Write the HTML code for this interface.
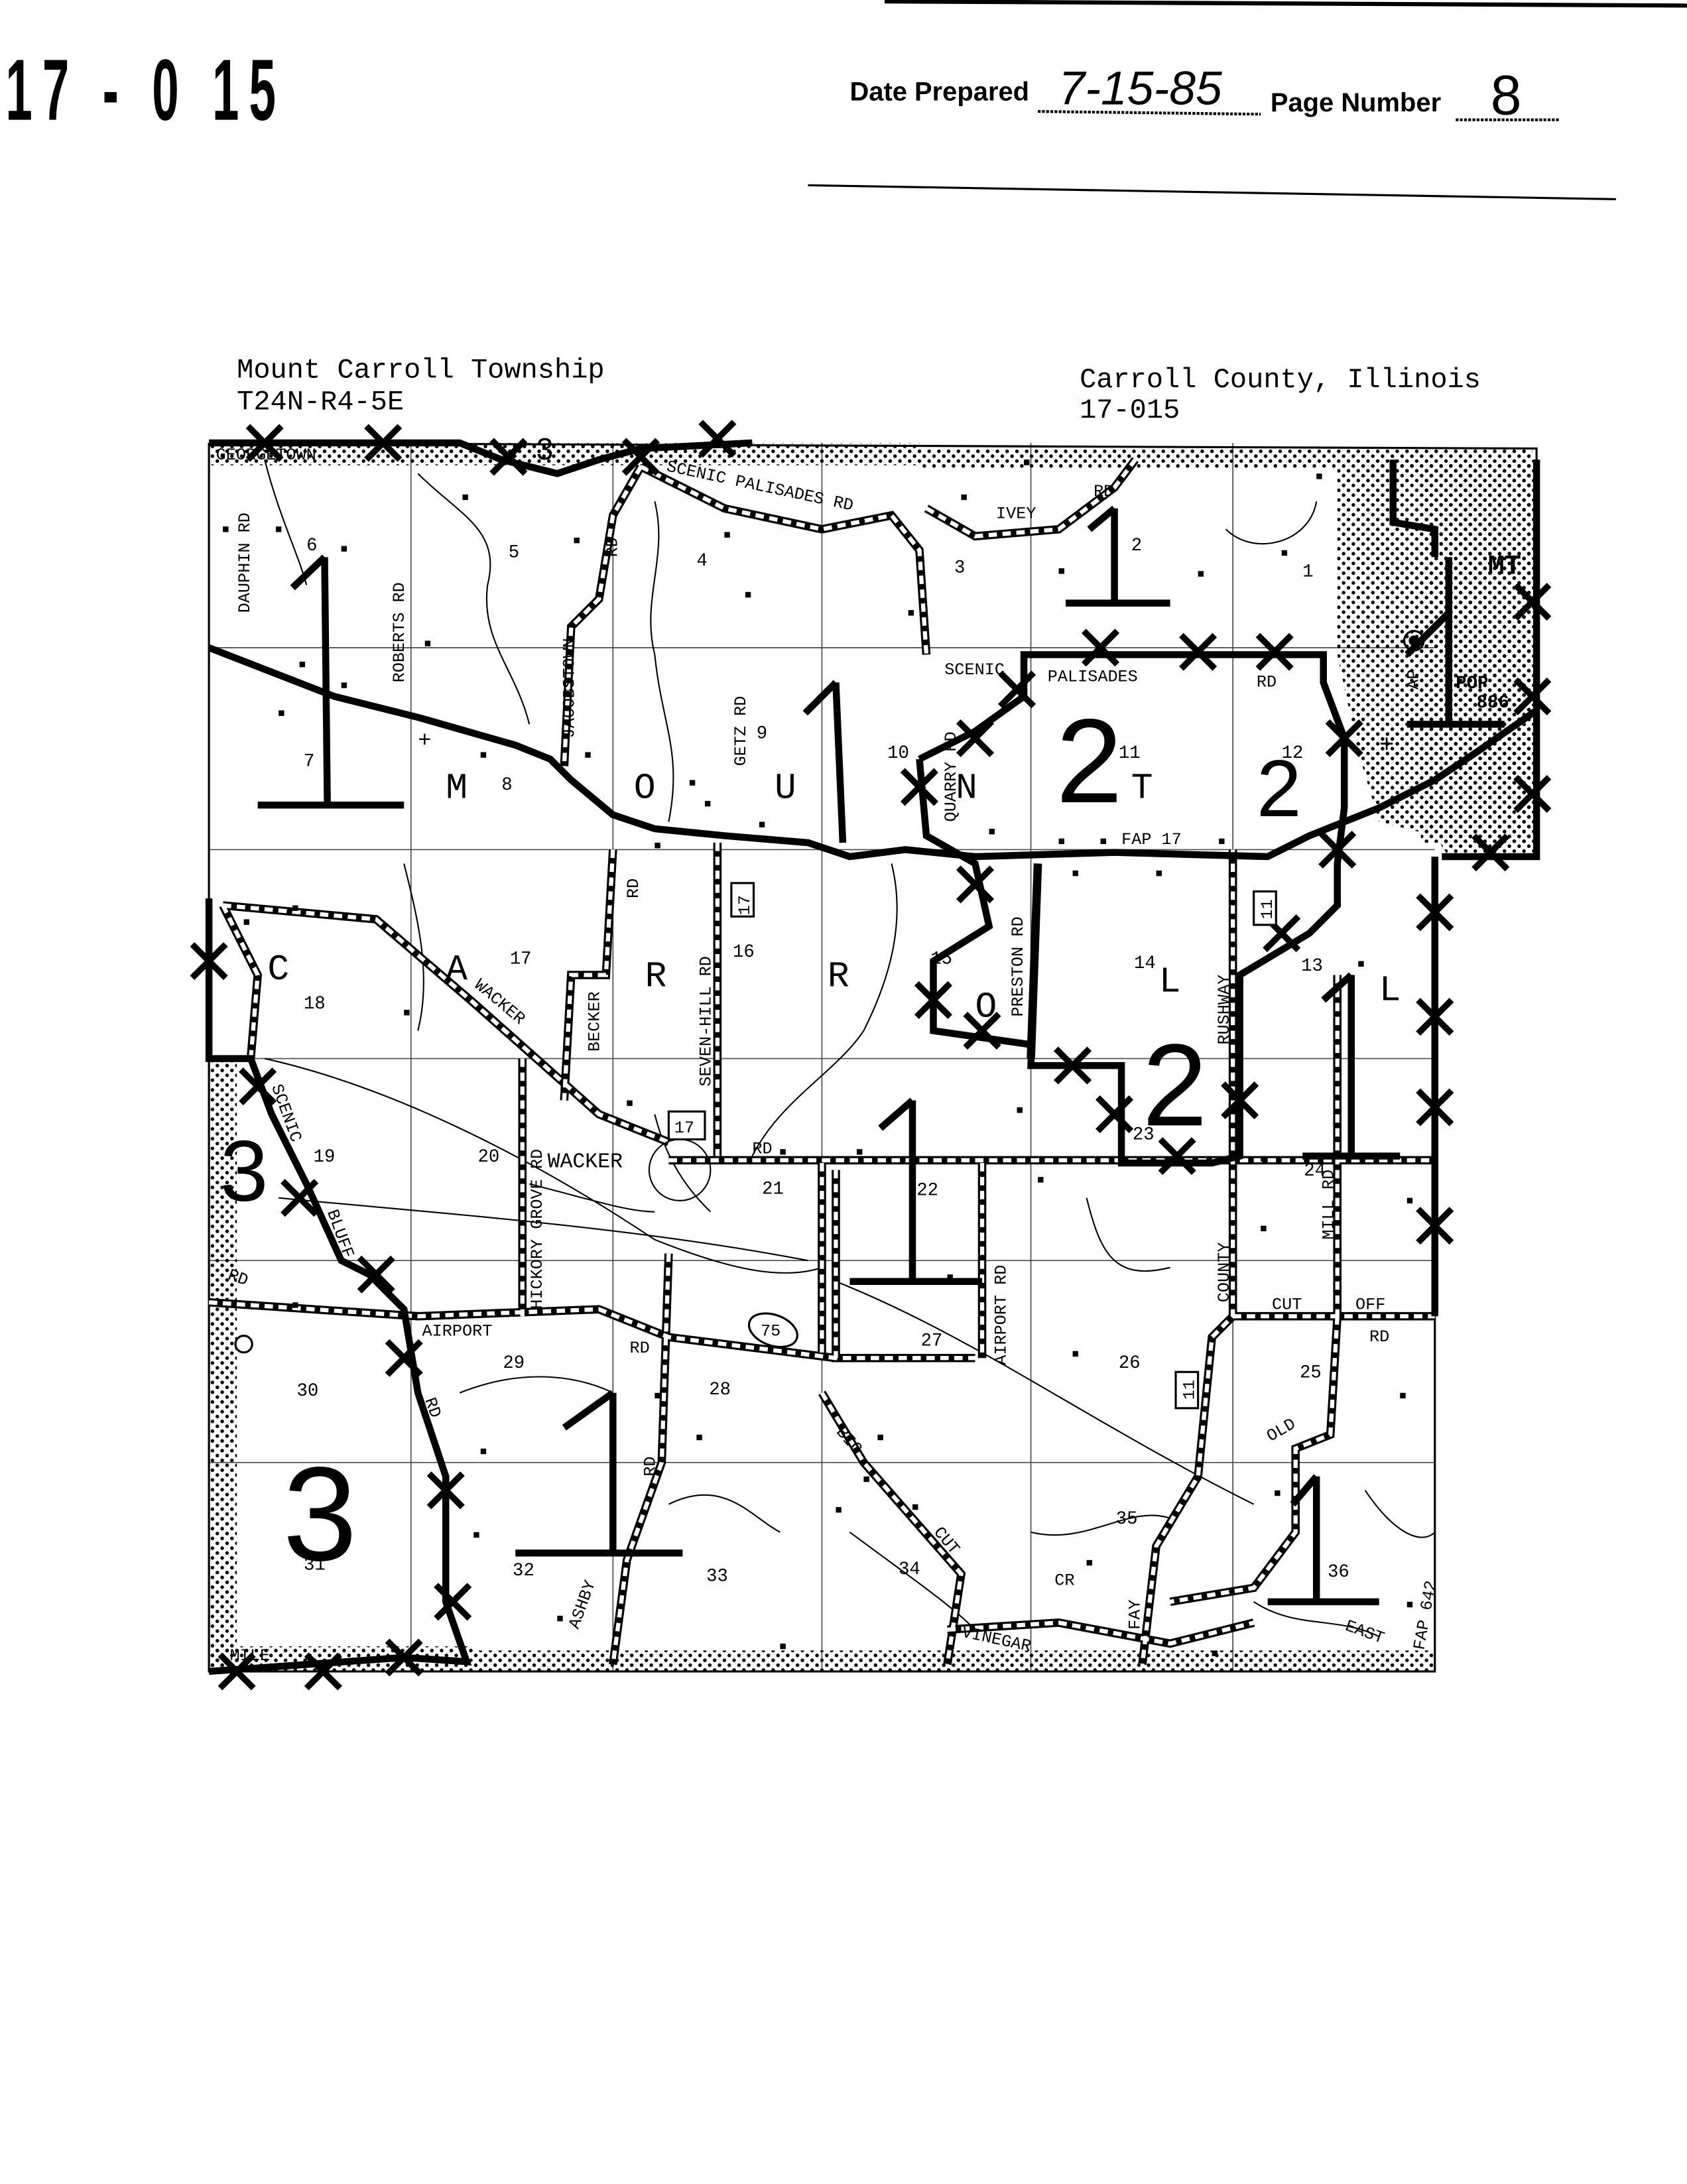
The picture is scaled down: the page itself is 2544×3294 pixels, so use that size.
<!DOCTYPE html>
<html><head><meta charset="utf-8"><style>
html,body{margin:0;padding:0;background:#fff;}
svg{display:block;}
</style></head><body>
<svg width="2544" height="3294" viewBox="0 0 1211 1568" preserveAspectRatio="none" xmlns="http://www.w3.org/2000/svg">
<defs>
<pattern id="st" width="7" height="7" patternUnits="userSpaceOnUse"><circle cx="2" cy="2" r="1.3" fill="#000"/><circle cx="5.5" cy="5.5" r="1.3" fill="#000"/></pattern>
</defs>
<rect width="1211" height="1568" fill="#fff"/>
<!-- header -->
<line x1="635" y1="1" x2="1211" y2="4" stroke="#000" stroke-width="3"/>
<text x="0" y="0" transform="translate(4,86) scale(0.72,1.3)" font-family="Liberation Sans, sans-serif" font-weight="bold" font-size="48" letter-spacing="10">17 - 0 15</text>
<text x="610" y="72" font-family="Liberation Sans, sans-serif" font-weight="bold" font-size="19">Date Prepared</text>
<text x="760" y="75" font-family="Liberation Sans, sans-serif" font-size="34" font-style="italic">7-15-85</text>
<line x1="745" y1="80" x2="905" y2="82" stroke="#000" stroke-width="2" stroke-dasharray="2 1"/>
<text x="912" y="80" font-family="Liberation Sans, sans-serif" font-weight="bold" font-size="19">Page Number</text>
<text x="1070" y="82" font-family="Liberation Sans, sans-serif" font-size="40">8</text>
<line x1="1045" y1="86" x2="1120" y2="86" stroke="#000" stroke-width="2" stroke-dasharray="2 1"/>
<line x1="580" y1="133" x2="1160" y2="143" stroke="#000" stroke-width="1.5"/>
<text x="170" y="271" font-family="Liberation Mono, monospace" font-size="20">Mount Carroll Township</text>
<text x="170" y="294" font-family="Liberation Mono, monospace" font-size="20">T24N-R4-5E</text>
<text x="775" y="278" font-family="Liberation Mono, monospace" font-size="20">Carroll County, Illinois</text>
<text x="775" y="300" font-family="Liberation Mono, monospace" font-size="20">17-015</text>

<!-- stippled areas -->
<g fill="url(#st)">
<rect x="150" y="318" width="510" height="16"/>
<rect x="660" y="322" width="440" height="14"/>
<rect x="150" y="760" width="20" height="440"/>
<rect x="150" y="1182" width="190" height="18"/>
<rect x="340" y="1185" width="690" height="15"/>
<path d="M960 335 L1103 330 L1103 615 L1040 615 L1030 600 L990 590 L975 540 L960 470 Z"/>
<rect x="1020" y="335" width="83" height="270"/>
</g>
<!-- frame -->
<g fill="none" stroke="#000" stroke-width="1.5">
<path d="M150 318 L1103 322 L1103 615 M1030 615 L1030 1200 L150 1200 L150 318"/>
</g>
<!-- grid -->
<g stroke="#000" stroke-width="0.8" opacity="0.7">
<line x1="295" y1="318" x2="295" y2="1200"/><line x1="440" y1="318" x2="440" y2="1200"/>
<line x1="590" y1="318" x2="590" y2="1200"/><line x1="740" y1="318" x2="740" y2="1200"/>
<line x1="885" y1="318" x2="885" y2="1200"/>
<line x1="150" y1="465" x2="1030" y2="465"/><line x1="150" y1="610" x2="1030" y2="610"/>
<line x1="150" y1="760" x2="1030" y2="760"/><line x1="150" y1="905" x2="1030" y2="905"/>
<line x1="150" y1="1050" x2="1030" y2="1050"/>
</g>
<!-- streams -->
<g fill="none" stroke="#000" stroke-width="1">
<path d="M300 340 C330 370 360 380 350 420 C345 460 370 480 380 520"/>
<path d="M190 330 C200 370 215 400 220 420"/>
<path d="M470 360 C480 400 460 430 470 470 C475 520 490 540 480 590"/>
<path d="M880 380 C900 400 940 390 945 360"/>
<path d="M640 620 C650 660 640 700 620 740 C600 770 560 790 540 830"/>
<path d="M290 620 C300 660 310 700 300 740"/>
<path d="M190 760 C280 780 380 830 470 890 C520 910 560 920 590 910"/>
<path d="M200 860 C300 870 450 880 580 905"/>
<path d="M600 920 C700 960 780 1020 900 1080"/>
<path d="M330 1000 C380 980 420 990 440 1000"/>
<path d="M480 1080 C520 1060 540 1090 560 1100"/>
<path d="M610 1100 C650 1130 680 1150 700 1170"/>
<path d="M740 1100 C780 1110 810 1080 840 1090"/>
<path d="M780 860 C790 900 800 920 840 910"/>
<path d="M980 1070 C1000 1100 1020 1110 1030 1100"/>
<path d="M900 1150 C930 1170 960 1160 990 1175"/>
<path d="M470 800 C480 840 500 860 510 870"/>
<path d="M380 850 C420 860 450 870 470 870"/>
</g>
<!-- roads (dashed) -->
<g fill="none" stroke="#000" stroke-width="6">
<path id="r" d="M460 335 L440 370 L430 430 L410 450 L405 550 M460 335 L520 365 L590 380 L640 370 L660 395 L665 470 M440 610 L435 700 L410 700 L405 790 M160 650 L270 660 L340 720 L430 800 L480 820 M515 605 L515 830 M480 833 L1030 833 M375 760 L375 945 M150 935 L300 945 L430 940 L480 960 L600 975 M590 835 L590 975 M705 835 L705 975 M885 610 L885 945 L870 960 L860 1060 L830 1110 L820 1195 M680 1170 L760 1165 L840 1180 L900 1165 M590 1000 L620 1050 L690 1130 L680 1195 M960 700 L960 945 M885 945 L1030 945 M960 945 L955 1030 L930 1040 L930 1100 L900 1140 L840 1150 M480 900 L475 1050 L450 1120 L440 1195 M745 620 L740 760 M160 650 L185 700 L180 760 M665 365 L700 385 L760 380 L800 350 L815 330 M600 840 L600 975 L700 975"/>
</g>
<g fill="none" stroke="#fff" stroke-width="3" stroke-dasharray="6 4">
<use href="#r"/>
</g>
<!-- main highway FAP 17 -->
<path d="M150 465 L240 500 L300 515 L370 535 L395 545 L410 560 L440 585 L470 595 L520 600 L580 605 L610 615 L650 610 L700 615 L800 612 L910 615 L940 600 L990 580 L1030 560 L1060 540 L1103 510" fill="none" stroke="#000" stroke-width="5"/>
<!-- thick boundaries -->
<g fill="none" stroke="#000" stroke-width="5">
<path d="M150 318 L330 318 L360 330 L400 340 L430 330 L460 322 L540 318"/>
<path d="M660 545 L700 525 L735 500 L735 470 L950 470 L950 490 L965 530 L965 580 L960 620 L960 650 L940 670 L890 700 L890 830 L870 835 L805 835 L805 765 L740 765 L745 620"/>
<path d="M660 545 L665 600 L700 620 L710 665 L670 690 L670 740 L740 750"/>
<path d="M150 645 L150 760 L180 760 L195 800 L220 850 L245 905 L265 915 L290 940 L300 1000 L320 1060 L320 1150 L335 1193 L290 1190 L150 1200"/>
<path d="M1030 615 L1030 945"/>
<path d="M1000 330 L1000 375 L1030 380 L1030 400"/>
<path d="M1103 330 L1103 615 L1035 615"/>
<path d="M970 700 L970 830 M935 830 L1005 830 M950 718 L970 700"/>
<path d="M655 790 L655 920 M610 920 L705 920 M632 810 L655 790"/>
<path d="M440 1000 L440 1115 M370 1115 L490 1115 M405 1025 L440 1000"/>
<path d="M233 400 L235 578 M185 578 L290 578 M210 422 L233 400"/>
<path d="M600 490 L605 605 M578 512 L600 490"/>
<path d="M800 365 L800 433 M765 433 L840 433 M782 380 L800 365"/>
<path d="M945 1060 L945 1150 M910 1150 L990 1150 M928 1080 L945 1060"/>
<path d="M1040 400 L1040 520 M1010 520 L1080 520"/>
<path d="M1010 470 L1040 440"/>
</g>
<!-- X marks -->
<g stroke="#000" stroke-width="4.5">
<path d="M178 306l24 24M202 306l-24 24 M263 306l24 24M287 306l-24 24 M353 316l24 24M377 316l-24 24 M448 316l24 24M472 316l-24 24 M503 303l24 24M527 303l-24 24 M778 453l24 24M802 453l-24 24 M848 456l24 24M872 456l-24 24 M903 456l24 24M927 456l-24 24 M718 483l24 24M742 483l-24 24 M688 518l24 24M712 518l-24 24 M648 553l24 24M672 553l-24 24 M953 518l24 24M977 518l-24 24 M948 598l24 24M972 598l-24 24 M1088 420l24 24M1112 420l-24 24 M1088 488l24 24M1112 488l-24 24 M1088 558l24 24M1112 558l-24 24 M1058 600l24 24M1082 600l-24 24 M1018 643l24 24M1042 643l-24 24 M688 623l24 24M712 623l-24 24 M658 706l24 24M682 706l-24 24 M693 728l24 24M717 728l-24 24 M908 658l24 24M932 658l-24 24 M758 753l24 24M782 753l-24 24 M788 788l24 24M812 788l-24 24 M833 818l24 24M857 818l-24 24 M878 778l24 24M902 778l-24 24 M1018 718l24 24M1042 718l-24 24 M1018 783l24 24M1042 783l-24 24 M1018 868l24 24M1042 868l-24 24 M138 678l24 24M162 678l-24 24 M173 768l24 24M197 768l-24 24 M203 848l24 24M227 848l-24 24 M258 903l24 24M282 903l-24 24 M278 963l24 24M302 963l-24 24 M308 1058l24 24M332 1058l-24 24 M313 1138l24 24M337 1138l-24 24 M278 1178l24 24M302 1178l-24 24 M220 1188l24 24M244 1188l-24 24 M158 1188l24 24M182 1188l-24 24"/>
</g>
<!-- big handwritten -->
<g font-family="Liberation Sans, sans-serif" fill="#000">
<text x="758" y="576" font-size="86">2</text>
<text x="902" y="586" font-size="58">2</text>
<text x="820" y="808" font-size="84">2</text>
<text x="158" y="862" font-size="62">3</text>
<text x="203" y="1120" font-size="96">3</text>
<text x="385" y="330" font-size="22">3</text>
</g>
<!-- letters -->
<g font-family="Liberation Mono, monospace" font-size="26" fill="#000">
<text x="320" y="573">M</text><text x="455" y="573">O</text><text x="556" y="573">U</text><text x="686" y="573">N</text><text x="812" y="573">T</text>
<text x="192" y="703">C</text><text x="320" y="703">A</text><text x="463" y="708">R</text><text x="594" y="708">R</text><text x="700" y="730">O</text><text x="832" y="712">L</text><text x="990" y="718">L</text>
<text x="1068" y="412" font-size="20" font-weight="bold">MT</text>
<text x="1045" y="494" font-size="13" font-weight="bold">POP</text><text x="1060" y="508" font-size="13" font-weight="bold">886</text>
</g>
<!-- section numbers -->
<g font-family="Liberation Mono, monospace" font-size="13" fill="#000">
<text x="220" y="395">6</text><text x="365" y="400">5</text><text x="500" y="406">4</text><text x="685" y="411">3</text><text x="812" y="395">2</text><text x="935" y="414">1</text>
<text x="218" y="550">7</text><text x="360" y="567">8</text><text x="543" y="530">9</text><text x="637" y="544">10</text><text x="803" y="544">11</text><text x="920" y="544">12</text>
<text x="218" y="724">18</text><text x="366" y="692">17</text><text x="526" y="687">16</text><text x="668" y="692">15</text><text x="814" y="695">14</text><text x="934" y="697">13</text>
<text x="225" y="834">19</text><text x="343" y="834">20</text><text x="547" y="857">21</text><text x="658" y="858">22</text><text x="813" y="818">23</text><text x="936" y="844">24</text>
<text x="213" y="1002">30</text><text x="361" y="982">29</text><text x="509" y="1001">28</text><text x="661" y="966">27</text><text x="803" y="982">26</text><text x="933" y="989">25</text>
<text x="218" y="1127">31</text><text x="368" y="1131">32</text><text x="507" y="1135">33</text><text x="645" y="1130">34</text><text x="801" y="1094">35</text><text x="953" y="1132">36</text>
</g>
<!-- road labels -->
<g font-family="Liberation Mono, monospace" font-size="12" fill="#000">
<text x="155" y="330">GEORGETOWN</text>
<text x="478" y="338" transform="rotate(12 478 338)">SCENIC PALISADES RD</text>
<text x="715" y="372">IVEY</text><text x="785" y="356">RD</text>
<text x="0" y="0" transform="translate(179,440) rotate(-90)">DAUPHIN RD</text>
<text x="0" y="0" transform="translate(290,490) rotate(-90)">ROBERTS RD</text>
<text x="0" y="0" transform="translate(412,530) rotate(-90)">JACOBSTOWN</text>
<text x="0" y="0" transform="translate(443,400) rotate(-90)">RD</text>
<text x="0" y="0" transform="translate(535,550) rotate(-90)">GETZ RD</text>
<text x="0" y="0" transform="translate(686,590) rotate(-90)">QUARRY RD</text>
<text x="678" y="484">SCENIC</text><text x="752" y="489">PALISADES</text><text x="902" y="493">RD</text>
<text x="805" y="606">FAP 17</text>
<text x="0" y="0" transform="translate(510,780) rotate(-90)">SEVEN-HILL RD</text>
<text x="0" y="0" transform="translate(430,755) rotate(-90)">BECKER</text>
<text x="0" y="0" transform="translate(458,645) rotate(-90)">RD</text>
<text x="340" y="708" transform="rotate(40 340 708)">WACKER</text>
<text x="0" y="0" transform="translate(389,940) rotate(-90)">HICKORY GROVE RD</text>
<text x="393" y="838" font-size="15">WACKER</text>
<text x="540" y="828">RD</text>
<text x="0" y="0" transform="translate(734,730) rotate(-90)">PRESTON RD</text>
<text x="0" y="0" transform="translate(882,750) rotate(-90)">RUSHWAY</text>
<text x="0" y="0" transform="translate(882,935) rotate(-90)">COUNTY</text>
<text x="0" y="0" transform="translate(957,890) rotate(-90)">MILL RD</text>
<text x="913" y="940">CUT</text><text x="973" y="940">OFF</text><text x="983" y="963">RD</text>
<text x="0" y="0" transform="translate(722,980) rotate(-90)">AIRPORT RD</text>
<text x="303" y="959">AIRPORT</text><text x="452" y="971">RD</text>
<text x="0" y="0" transform="translate(470,1060) rotate(-90)">RD</text>
<text x="305" y="1005" transform="rotate(70 305 1005)">RD</text>
<text x="600" y="1028" transform="rotate(50 600 1028)">BIG</text>
<text x="670" y="1100" transform="rotate(50 670 1100)">CUT</text>
<text x="415" y="1170" transform="rotate(-70 415 1170)">ASHBY</text>
<text x="690" y="1175" transform="rotate(12 690 1175)">VINEGAR</text>
<text x="757" y="1138">CR</text>
<text x="0" y="0" transform="translate(818,1170) rotate(-90)">FAY</text>
<text x="965" y="1170" transform="rotate(20 965 1170)">EAST</text>
<text x="0" y="0" transform="translate(1022,1185) rotate(-80)">FAP 642</text>
<text x="912" y="1035" transform="rotate(-30 912 1035)">OLD</text>
<text x="165" y="1192">MILE</text>
<text x="195" y="780" transform="rotate(70 195 780)">SCENIC</text>
<text x="235" y="870" transform="rotate(70 235 870)">BLUFF</text>
<text x="163" y="918" transform="rotate(20 163 918)">RD</text>
<text x="0" y="0" transform="translate(1018,495) rotate(-90)">AP</text>
</g>
<!-- shields -->
<g fill="#fff" stroke="#000" stroke-width="1.5" font-family="Liberation Mono, monospace" font-size="12">
<rect x="525" y="634" width="16" height="24"/><rect x="480" y="798" width="26" height="20"/>
<ellipse cx="555" cy="955" rx="18" ry="11" transform="rotate(20 555 955)"/>
<rect x="900" y="640" width="16" height="24"/><rect x="844" y="985" width="16" height="26"/>
<circle cx="488" cy="840" r="22" fill="none" stroke-width="1"/>
<circle cx="1015" cy="460" r="7" fill="none"/><circle cx="1015" cy="460" r="3" fill="#000"/>
<circle cx="175" cy="965" r="6"/>
</g>
<g font-family="Liberation Mono, monospace" font-size="12" fill="#000">
<text x="0" y="0" transform="translate(538,657) rotate(-90)">17</text>
<text x="484" y="813">17</text><text x="546" y="959">75</text>
<text x="0" y="0" transform="translate(913,660) rotate(-90)">11</text>
<text x="0" y="0" transform="translate(857,1005) rotate(-90)">11</text>
<text x="990" y="540" font-size="18">+</text><text x="300" y="536" font-size="16">+</text>
</g>
<!-- buildings -->
<g fill="#000">
<rect x="160" y="378" width="4" height="4"/><rect x="198" y="378" width="4" height="4"/><rect x="245" y="392" width="4" height="4"/><rect x="215" y="475" width="4" height="4"/><rect x="245" y="490" width="4" height="4"/><rect x="305" y="460" width="4" height="4"/><rect x="332" y="355" width="4" height="4"/><rect x="412" y="386" width="4" height="4"/><rect x="520" y="382" width="4" height="4"/><rect x="535" y="425" width="4" height="4"/><rect x="652" y="438" width="4" height="4"/><rect x="690" y="355" width="4" height="4"/><rect x="735" y="330" width="4" height="4"/><rect x="760" y="408" width="4" height="4"/><rect x="860" y="410" width="4" height="4"/><rect x="920" y="395" width="4" height="4"/><rect x="945" y="340" width="4" height="4"/>
<rect x="200" y="510" width="4" height="4"/><rect x="345" y="540" width="4" height="4"/><rect x="420" y="540" width="4" height="4"/><rect x="495" y="560" width="4" height="4"/><rect x="506" y="575" width="4" height="4"/><rect x="470" y="605" width="4" height="4"/><rect x="545" y="590" width="4" height="4"/><rect x="710" y="595" width="4" height="4"/><rect x="760" y="602" width="4" height="4"/><rect x="790" y="602" width="4" height="4"/><rect x="830" y="625" width="4" height="4"/><rect x="875" y="602" width="4" height="4"/><rect x="770" y="625" width="4" height="4"/>
<rect x="175" y="660" width="4" height="4"/><rect x="210" y="650" width="4" height="4"/><rect x="290" y="725" width="4" height="4"/><rect x="450" y="790" width="4" height="4"/><rect x="560" y="825" width="4" height="4"/><rect x="615" y="825" width="4" height="4"/><rect x="730" y="795" width="4" height="4"/><rect x="745" y="845" width="4" height="4"/><rect x="905" y="830" width="4" height="4"/><rect x="905" y="880" width="4" height="4"/><rect x="1010" y="860" width="4" height="4"/><rect x="975" y="690" width="4" height="4"/>
<rect x="210" y="935" width="4" height="4"/><rect x="355" y="940" width="4" height="4"/><rect x="470" y="1000" width="4" height="4"/><rect x="500" y="1030" width="4" height="4"/><rect x="345" y="1040" width="4" height="4"/><rect x="600" y="1082" width="4" height="4"/><rect x="630" y="1030" width="4" height="4"/><rect x="770" y="970" width="4" height="4"/><rect x="620" y="1060" width="4" height="4"/><rect x="655" y="1080" width="4" height="4"/><rect x="780" y="1120" width="4" height="4"/><rect x="915" y="1070" width="4" height="4"/><rect x="1005" y="1000" width="4" height="4"/><rect x="1010" y="1150" width="4" height="4"/><rect x="560" y="1180" width="4" height="4"/><rect x="870" y="1185" width="4" height="4"/><rect x="400" y="1160" width="4" height="4"/><rect x="680" y="915" width="4" height="4"/><rect x="340" y="1100" width="4" height="4"/>
</g>
</svg>
</body></html>
